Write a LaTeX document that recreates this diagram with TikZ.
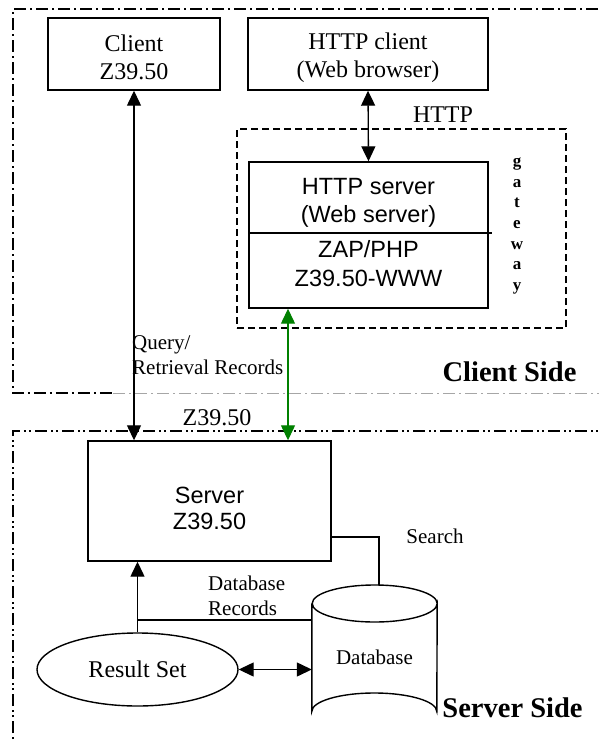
\documentclass[tikz,border=0pt]{standalone}
\usepackage{fontspec}
\setmainfont{Liberation Serif}
\setsansfont{Liberation Sans}
\usetikzlibrary{arrows.meta,shapes.geometric}
\begin{document}
\begin{tikzpicture}[x=1pt,y=-1pt,
  box/.style={draw,line width=1.4pt,inner sep=0pt},
  txt/.style={inner sep=0pt,align=center,font=\fontsize{24}{28}\selectfont},
  stxt/.style={inner sep=0pt,align=center,font=\sffamily\fontsize{23.5}{28}\selectfont},
  lbl/.style={inner sep=0pt,align=left,font=\fontsize{21}{25}\selectfont},
  arr/.style={line width=1.3pt,-{Triangle[length=15pt,width=14pt]}},
  darr/.style={line width=1.3pt,{Triangle[length=15pt,width=14pt]}-{Triangle[length=15pt,width=14pt]}},
  clientline/.style={line width=1.2pt,dash pattern=on 12pt off 4pt on 2pt off 4pt},
  serverline/.style={line width=1.2pt,dash pattern=on 12pt off 4pt on 2pt off 3pt on 2pt off 4pt}]
\useasboundingbox (0,0) rectangle (599,742);
\begin{scope}
\clip (0,0) rectangle (599,742);
% client side and server side areas
\draw[clientline] (620,9) -| (13,393) -- (113,393);
\draw[clientline,gray!70,line width=0.8pt] (113,393) -- (620,393);
\draw[serverline] (13,760) |- (620,431);
\end{scope}
% client side
\node[box,minimum width=172,minimum height=72] (client) at (134,54) {};
\node[txt] (clienttxt) at ([yshift=-3.5]client.center) {Client\\Z39.50};
\node[box,minimum width=240,minimum height=72] (browser) at (368,54) {};
\node[txt] (browsertxt) at ([yshift=-3.5]browser.center) {HTTP client\\(Web browser)};
\node[draw,line width=1.2pt,dash pattern=on 7pt off 4pt,minimum width=329,minimum height=199] (gateway) at (401.5,228.5) {};
\node[box,minimum width=239,minimum height=146] (httpsrv) at (368.5,235) {};
\draw[line width=1.4pt] (httpsrv.west |- 0,233) -- ([xshift=3]httpsrv.east |- 0,233);
\node[stxt] (websrv) at (368.5,203) {HTTP server\\(Web server)};
\node[stxt,font=\sffamily\fontsize{23.5}{29}\selectfont] (zap) at (368.5,263.5) {ZAP/PHP\\Z39.50-WWW};
\node[inner sep=0pt,align=center,font=\bfseries\fontsize{17}{20.7}\selectfont] (gwtext) at (517,226) {g\\a\\t\\e\\w\\a\\y};
\node[txt] (httplbl) at (443,115) {HTTP};
\node[lbl] (query) at (132,355) [anchor=west] {Query/\\Retrieval Records};
\node[inner sep=0pt,font=\bfseries\fontsize{28.5}{32}\selectfont] (clientside) at (509.5,372) {Client Side};
% server side
\node[box,minimum width=243,minimum height=120] (server) at (209.5,501) {};
\node[stxt,font=\sffamily\fontsize{23.5}{26}\selectfont] (servertxt) at ([yshift=-7]server.center) {Server\\Z39.50};
\node[txt] (zlbl) at (217,418) {Z39.50};
\node[draw,ellipse,line width=1.4pt,inner sep=0pt,minimum width=201,minimum height=73,font=\fontsize{24}{28}\selectfont] (res) at (137.5,669.5) {Result Set};
\node[minimum width=125,minimum height=145,inner sep=0pt,font=\fontsize{21}{25}\selectfont] (db) at (374.5,657.5) {Database};
\draw[line width=1.4pt] (db.west |- 0,603.5) -- (db.west |- 0,711.5) arc[start angle=180,end angle=360,x radius=62.5,y radius=18.5]
  -- (db.east |- 0,603.5) arc[start angle=0,end angle=360,x radius=62.5,y radius=18.5];
\node[lbl] (search) at (435,536) {Search};
\node[lbl] (records) at (208,595.5) [anchor=west] {Database\\Records};
\node[inner sep=0pt,font=\bfseries\fontsize{28.5}{32}\selectfont] (serverside) at (512.5,708) {Server Side};
\coordinate (join) at (138,620);
% connectors
\draw[darr] (client.south) -- (client.south |- server.north);
\draw[darr] (browser.south) -- (httpsrv.north);
\draw[darr,green!50!black] ([xshift=-80.5]httpsrv.south) -- ([xshift=-80.5]httpsrv.south |- server.north);
\draw[line width=1.4pt] (server.east |- 0,537) -| ([xshift=4.5]db.north);
\draw[line width=1.4pt] (join) -- (db.west |- join);
\draw[arr] (res.north) -- (res.north |- server.south);
\draw[darr] (res.east) -- (res.east -| db.west);
\end{tikzpicture}
\end{document}
